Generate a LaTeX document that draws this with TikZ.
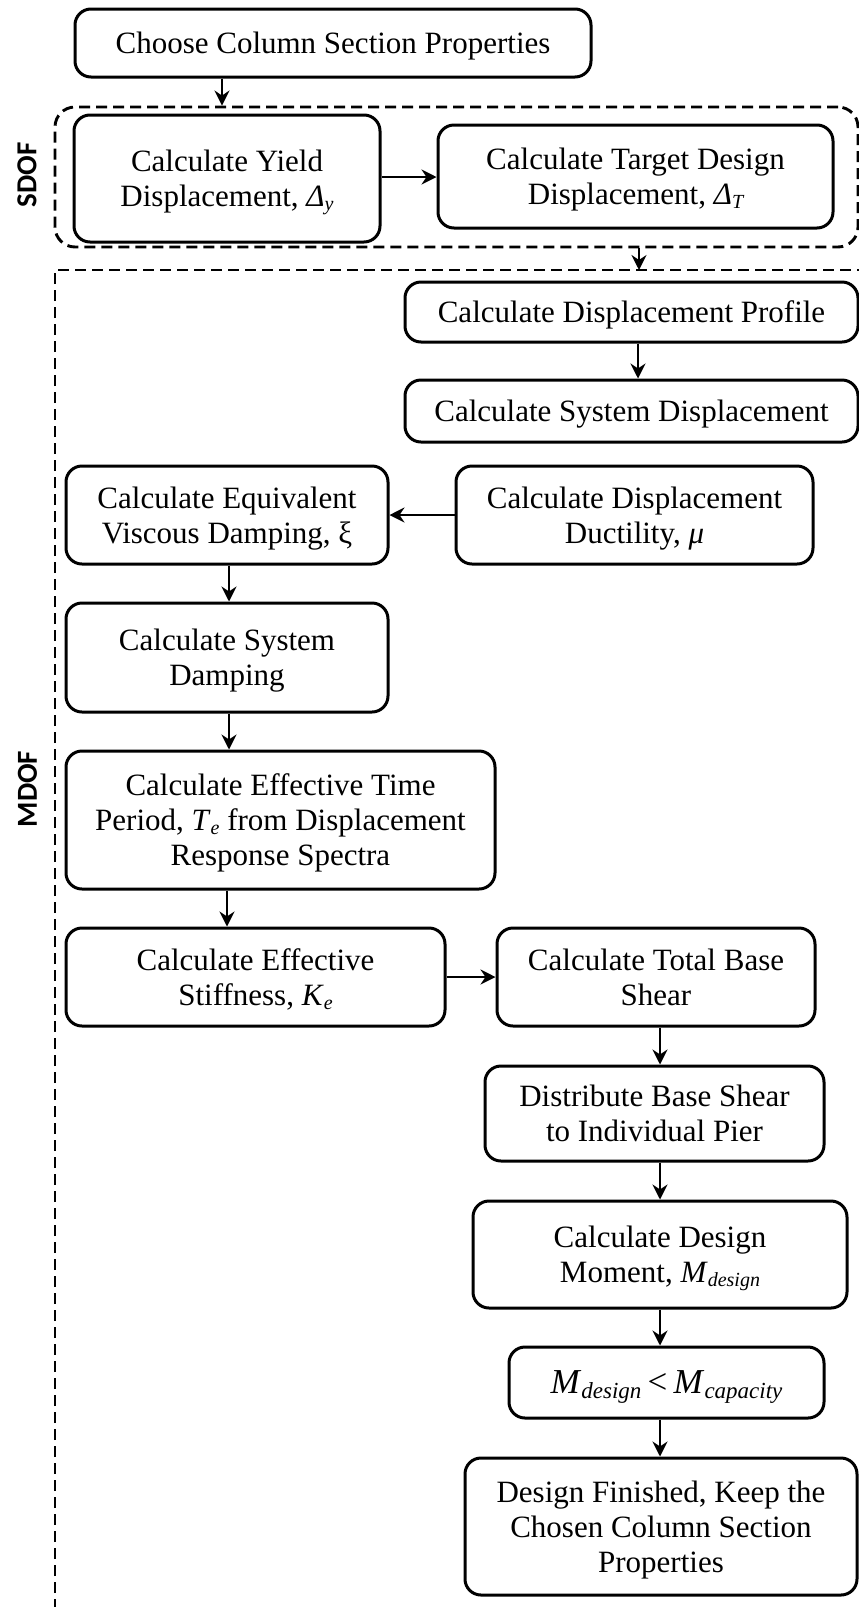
\documentclass[tikz,border=0pt]{standalone}
\usepackage{fontspec}
\setmainfont{Liberation Serif}
\newfontfamily\tagfont{Carlito}
\usetikzlibrary{arrows.meta}

% italic subscripts, slightly lowered, for the symbols in the boxes
\newcommand{\lsub}[1]{\raisebox{-0.28ex}{\fontsize{20}{20}\selectfont\itshape #1}}
\newcommand{\bsub}[1]{\raisebox{-0.28ex}{\fontsize{23}{23}\selectfont\itshape #1}}

\tikzset{
  stepbox/.style={draw, line width=3pt, rounded corners=16pt, align=center,
    inner sep=0pt, text depth=0pt, font=\fontsize{31}{35}\selectfont},
  sz/.style 2 args={minimum width=#1pt, minimum height=#2pt},
  flow/.style={-{Stealth[length=15pt,width=15pt,inset=5pt]}, line width=2.5pt},
  frame/.style={line width=2.9pt, dash pattern=on 11pt off 6pt},
  tag/.style={font=\tagfont\bfseries\fontsize{29}{29}\selectfont, inner sep=0pt}
}

\begin{document}
\begin{tikzpicture}[x=1pt, y=-1pt]
\useasboundingbox (0,0) rectangle (859,1607);

% arrow columns and rows
\coordinate (colA) at (222,0);
\coordinate (colB) at (639,0);
\coordinate (colC) at (638,0);
\coordinate (colD) at (229,0);
\coordinate (colE) at (227,0);
\coordinate (colF) at (660,0);
\coordinate (rowA) at (0,177);

% group frames
\node[frame, draw, rounded corners=20pt, sz={803}{140}, inner sep=0pt] (sdof) at (456.5,177) {};
\coordinate (mdofbl) at (55,1610);
\coordinate (mdoftl) at (55,270);
\coordinate (mdoftr) at (862,270);
\draw[frame] (mdofbl) -- (mdoftl) -- (mdoftr);

\node[tag, rotate=90] (sdoftag) at (27,175) {SDOF};
\node[tag, rotate=90] (mdoftag) at (27.5,789) {MDOF};

% process steps
\node[stepbox, sz={516}{68}] (choose) at (333,43) {Choose Column Section Properties};
\node[stepbox, sz={306}{127}] (yield) at (227,178.5)
  {Calculate Yield\\Displacement, \textit{Δ}\lsub{y}};
\node[stepbox, sz={395}{103}] (target) at (635.5,176.5)
  {Calculate Target Design\\Displacement, \textit{Δ}\lsub{T}};
\node[stepbox, sz={453}{60}] (profile) at (631.5,312) {Calculate Displacement Profile};
\node[stepbox, sz={453}{62}] (sysdisp) at (631.5,411) {Calculate System Displacement};
\node[stepbox, sz={322}{98}] (equiv) at (227,515)
  {Calculate Equivalent\\Viscous Damping, ξ};
\node[stepbox, sz={357}{98}] (ductility) at (634.5,515)
  {Calculate Displacement\\Ductility, \textit{μ}};
\node[stepbox, sz={322}{109}] (sysdamp) at (227,657.5)
  {Calculate System\\Damping};
\node[stepbox, sz={429}{138}] (period) at (280.5,820)
  {Calculate Effective Time\\Period, \textit{T}\lsub{e} from Displacement\\Response Spectra};
\node[stepbox, sz={379}{98}] (stiff) at (255.5,977)
  {Calculate Effective\\Stiffness, \textit{K}\lsub{e}};
\node[stepbox, sz={318}{98}] (baseshear) at (656,977)
  {Calculate Total Base\\Shear};
\node[stepbox, sz={339}{95}] (distrib) at (654.5,1113.5)
  {Distribute Base Shear\\to Individual Pier};
\node[stepbox, sz={374}{107}] (moment) at (660,1254.5)
  {Calculate Design\\Moment, \textit{M}\lsub{design}};
\node[stepbox, sz={315}{71}] (check) at (666.5,1382.5)
  {\fontsize{35}{40}\selectfont\textit{M}\bsub{design}\hspace{0.18em}<\hspace{0.18em}\textit{M}\bsub{capacity}};
\node[stepbox, sz={392}{137}] (finish) at (661,1526.5)
  {Design Finished, Keep the\\Chosen Column Section\\Properties};

% connectors
\draw[flow] (choose.south -| colA) -- (sdof.north -| colA);
\draw[flow] (yield.east |- rowA) -- (target.west |- rowA);
\draw[flow] (sdof.south -| colB) -- (mdoftl -| colB);
\draw[flow] (profile.south -| colC) -- (sysdisp.north -| colC);
\draw[flow] (ductility.west) -- (equiv.east);
\draw[flow] (equiv.south -| colD) -- (sysdamp.north -| colD);
\draw[flow] (sysdamp.south -| colD) -- (period.north -| colD);
\draw[flow] (period.south -| colE) -- (stiff.north -| colE);
\draw[flow] (stiff.east) -- (baseshear.west);
\draw[flow] (baseshear.south -| colF) -- (distrib.north -| colF);
\draw[flow] (distrib.south -| colF) -- (moment.north -| colF);
\draw[flow] (moment.south -| colF) -- (check.north -| colF);
\draw[flow] (check.south -| colF) -- (finish.north -| colF);
\end{tikzpicture}
\end{document}
